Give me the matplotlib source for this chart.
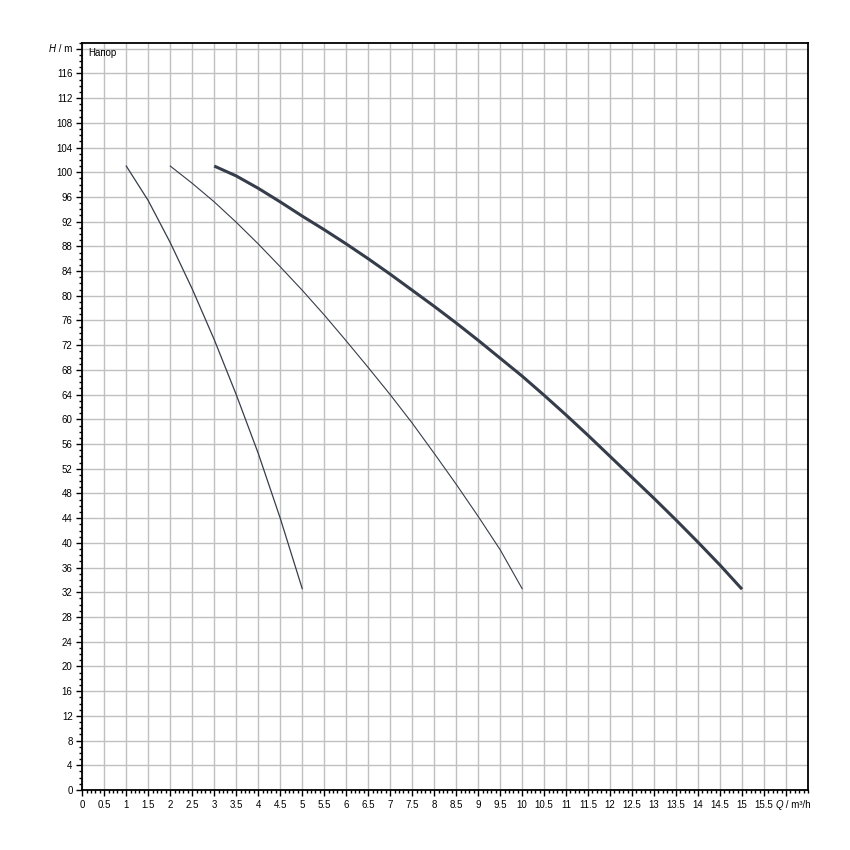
import numpy as np
import matplotlib
matplotlib.use('Agg')
import matplotlib.pyplot as plt
from matplotlib.ticker import MultipleLocator

plt.rcParams['font.family'] = ['Liberation Sans', 'DejaVu Sans']

# pump curves, Q in m3/h, H in m
q1 = [1, 1.5, 2, 2.5, 3, 3.5, 4, 4.5, 5]
h1 = [101, 95.4, 88.6, 81.1, 72.9, 64.0, 54.5, 44.0, 32.6]

q2 = [2, 2.5, 3, 3.5, 4, 4.5, 5, 5.5, 6, 6.5, 7, 7.5, 8, 8.5, 9, 9.5, 10]
h2 = [101, 98.2, 95.2, 91.9, 88.4, 84.7, 80.9, 76.9, 72.7, 68.4, 64.0, 59.4,
      54.5, 49.5, 44.3, 38.9, 32.6]

q3 = [3, 3.5, 4, 4.5, 5, 5.5, 6, 6.5, 7, 7.5, 8, 8.5, 9, 9.5, 10, 10.5, 11,
      11.5, 12, 12.5, 13, 13.5, 14, 14.5, 15]
h3 = [101.0, 99.4, 97.4, 95.2, 92.9, 90.7, 88.4, 86.0, 83.5, 80.9, 78.3, 75.6,
      72.8, 69.9, 67.0, 63.9, 60.7, 57.4, 54.0, 50.6, 47.2, 43.7, 40.1, 36.4, 32.5]

x_ticks = [i * 0.5 for i in range(33)]
x_labels = [('%g' % v) for v in x_ticks[:-1]] + ['']
y_ticks = list(range(0, 121, 4))
y_labels = [str(v) for v in y_ticks[:-1]] + ['']

line_col = '#363d4a'

fig = plt.figure(figsize=(8.5, 8.5), dpi=100)
ax = fig.add_axes([82.3 / 850, 1 - 790 / 850, (808 - 82.3) / 850, (790 - 42.5) / 850])

ax.plot(q1, h1, color=line_col, lw=0.9)
ax.plot(q2, h2, color=line_col, lw=0.8)
ax.plot(q3, h3, color=line_col, lw=2.2, solid_capstyle='butt')

ax.set_xlim(0, 16.5)
ax.set_ylim(0, 121)
ax.set_xticks(x_ticks)
ax.set_xticklabels(x_labels)
ax.set_yticks(y_ticks)
ax.set_yticklabels(y_labels)
ax.xaxis.set_minor_locator(MultipleLocator(0.1))
ax.yaxis.set_minor_locator(MultipleLocator(1))

ax.grid(True, which='major', color='#c0c0c0', lw=1.0)
ax.set_axisbelow(True)
ax.tick_params(which='major', direction='out', length=4.5, width=1, labelsize=7, pad=2.5, color='black')
ax.tick_params(which='minor', direction='out', length=2.2, width=1, color='black')
for s in ax.spines.values():
    s.set_color('black')
    s.set_linewidth(1.3)

# axis unit labels
t1 = ax.annotate(' / m', xy=(0, 120), xycoords=('axes fraction', 'data'), xytext=(-7, 0),
                 textcoords='offset points', ha='right', va='center', fontsize=7)
ax.annotate('H', xy=(0, 0), xycoords=t1, ha='right', va='bottom', fontsize=7, style='italic')
t2 = ax.annotate('Q', xy=(15.76, 0), xycoords=('data', 'axes fraction'), xytext=(0, -7),
                 textcoords='offset points', ha='left', va='top', fontsize=7, style='italic')
ax.annotate(' / m³/h', xy=(1, 0), xycoords=t2, ha='left', va='bottom', fontsize=7)

ax.text(0.008, 0.993, 'Напор', transform=ax.transAxes, fontsize=7, va='top', ha='left')

fig.savefig('out.png', dpi=100)
